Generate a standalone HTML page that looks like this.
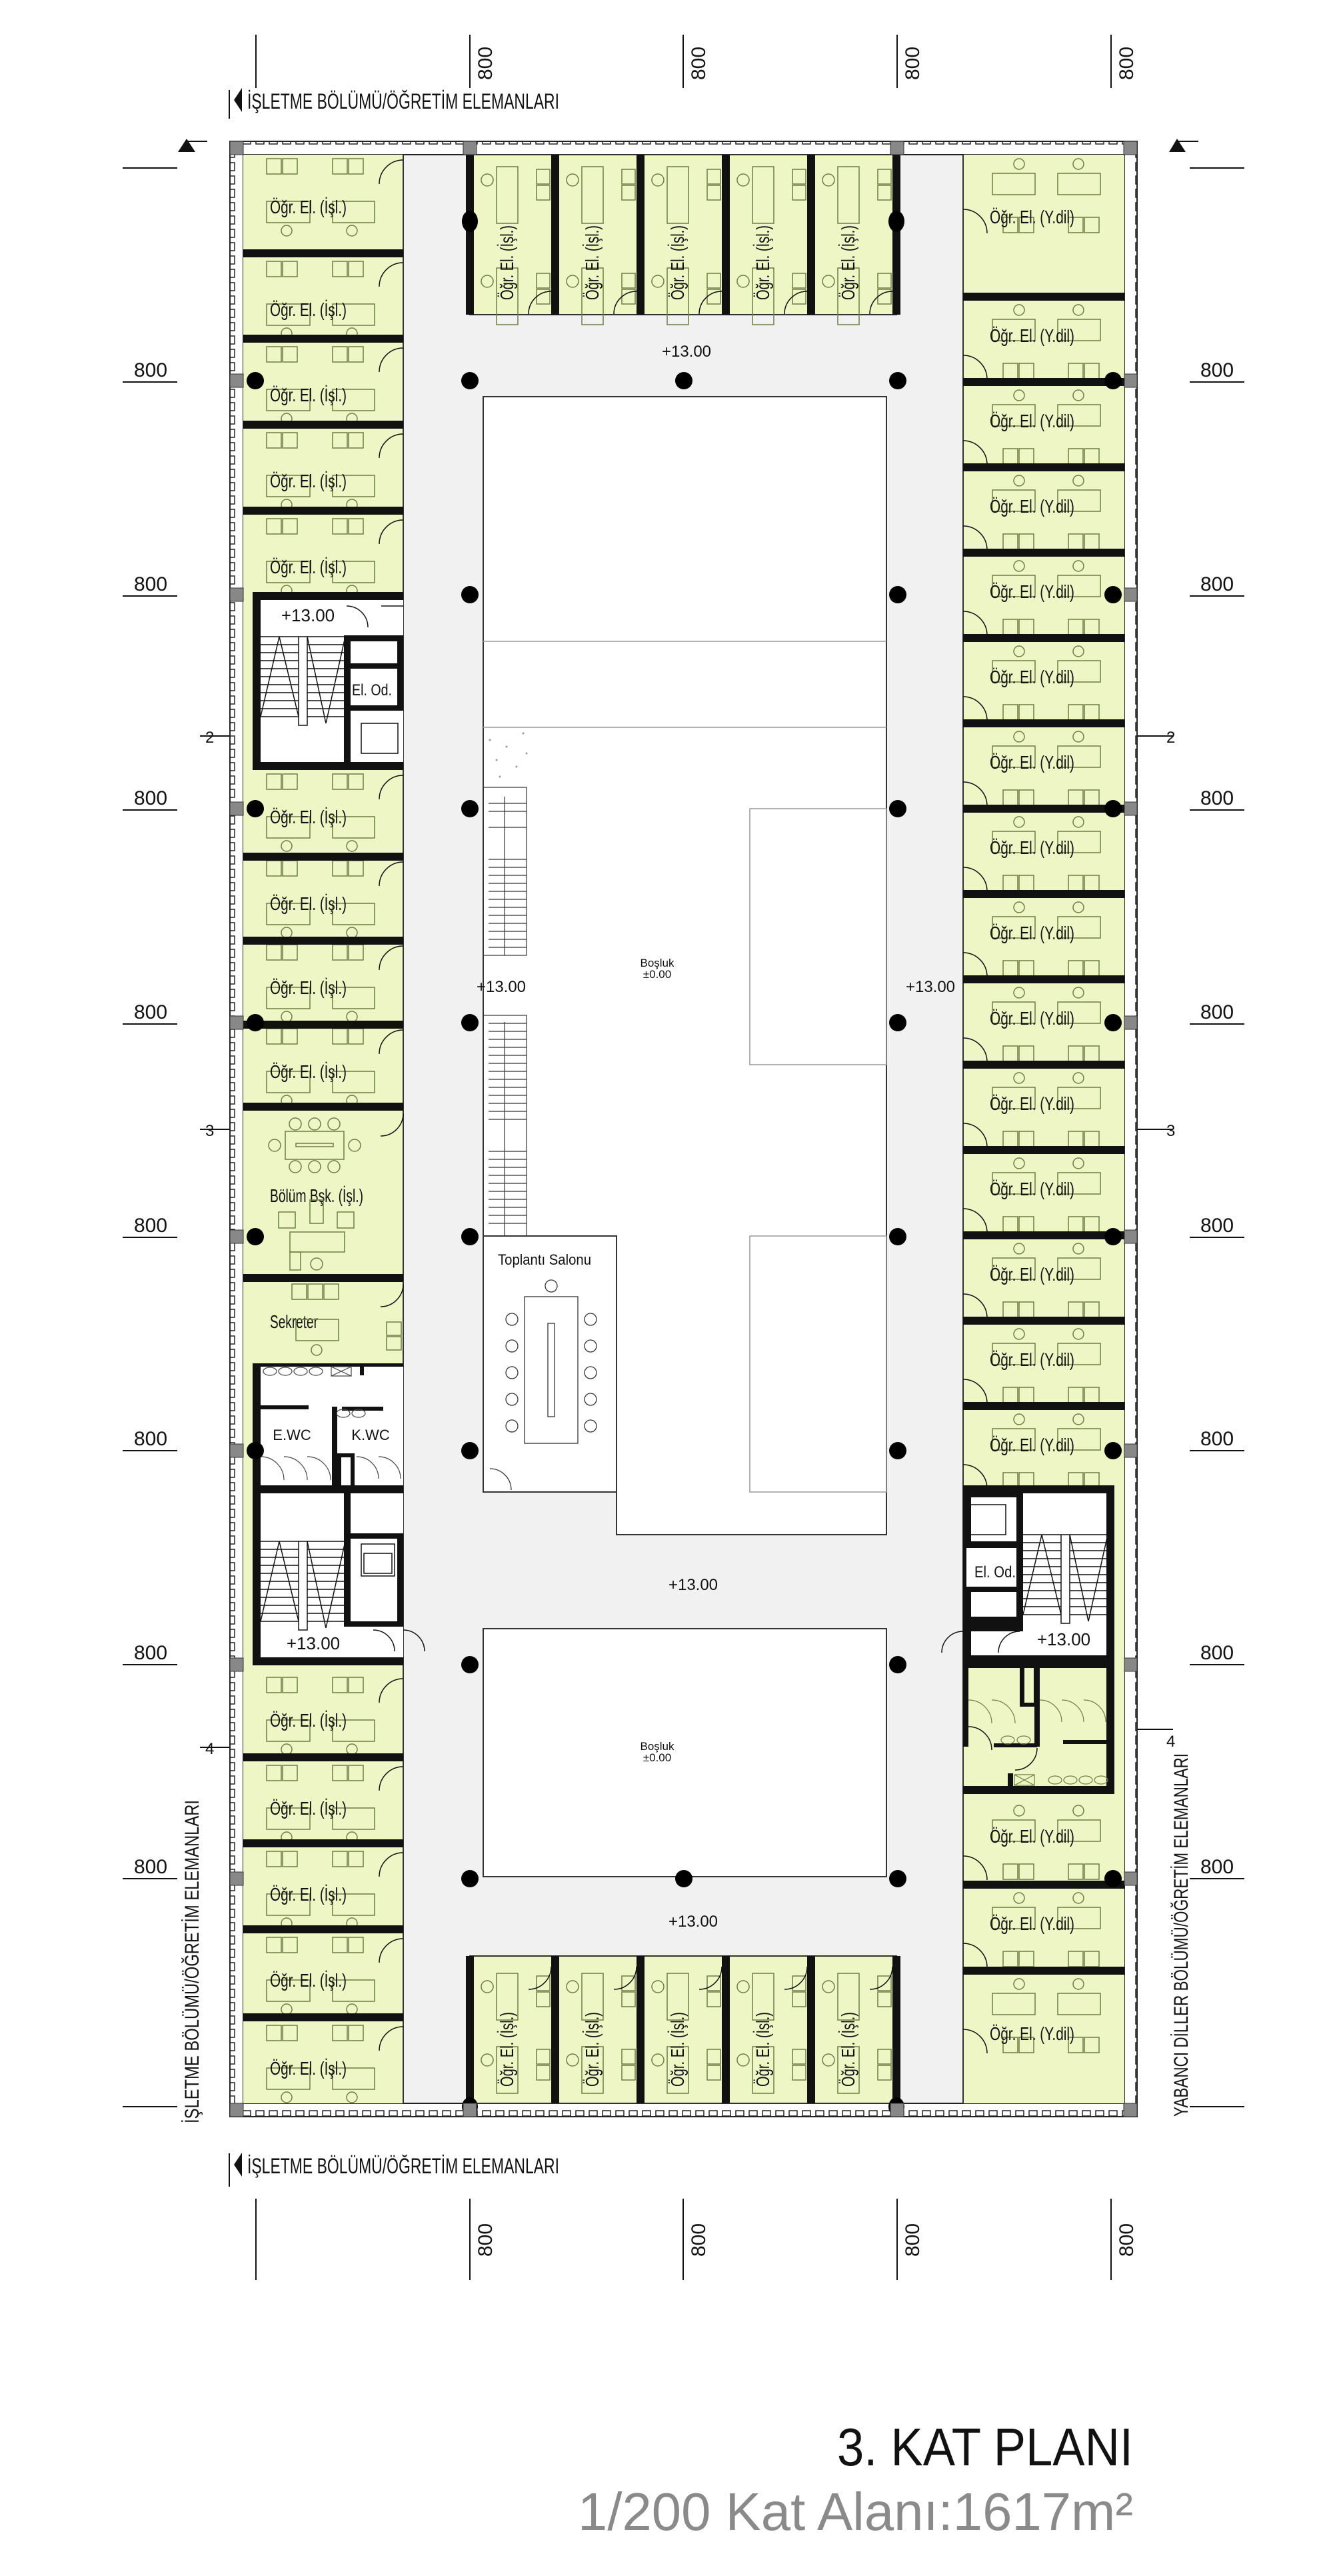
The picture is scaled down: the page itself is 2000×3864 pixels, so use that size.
<!DOCTYPE html>
<html><head><meta charset="utf-8"><style>
html,body{margin:0;padding:0;background:#fff}
svg{display:block}
text{font-family:"Liberation Sans",sans-serif;fill:#111}
</style></head><body>
<svg width="2000" height="3864" viewBox="0 0 2000 3864" xmlns="http://www.w3.org/2000/svg">
<defs>
<pattern id="wh" width="20" height="34" patternUnits="userSpaceOnUse"><rect x="4" y="4" width="12" height="8" fill="none" stroke="#222" stroke-width="1.5"/></pattern>
<pattern id="wv" width="34" height="20" patternUnits="userSpaceOnUse"><rect x="4" y="4" width="8" height="12" fill="none" stroke="#222" stroke-width="1.5"/></pattern>
<g id="L" fill="none" stroke="#6f7d45" stroke-width="1.5">
<rect x="35" y="6" width="22" height="23"/><rect x="59" y="6" width="22" height="23"/>
<rect x="134" y="6" width="22" height="23"/><rect x="158" y="6" width="22" height="23"/>
<rect x="35" y="70" width="65" height="32"/><rect x="134" y="70" width="63" height="32"/>
<circle cx="65" cy="114" r="8"/><circle cx="163" cy="114" r="8"/>
<path d="M240,8 A36,36 0 0 0 204,44" stroke="#111"/>
</g>
<g id="R" fill="none" stroke="#6f7d45" stroke-width="1.5">
<circle cx="84" cy="14" r="8"/><circle cx="173" cy="14" r="8"/>
<rect x="44" y="28" width="64" height="32"/><rect x="142" y="28" width="64" height="32"/>
<rect x="60" y="94" width="22" height="23"/><rect x="84" y="94" width="22" height="23"/>
<rect x="158" y="94" width="22" height="23"/><rect x="182" y="94" width="22" height="23"/>
<path d="M0,82 A36,36 0 0 1 36,118" stroke="#111"/>
</g>
<g id="T" fill="none" stroke="#6f7d45" stroke-width="1.5">
<rect x="34" y="18" width="32" height="85"/><circle cx="20" cy="38" r="9"/>
<rect x="94" y="22" width="20" height="22"/><rect x="94" y="46" width="20" height="22"/>
<rect x="34" y="170" width="32" height="85"/><circle cx="20" cy="190" r="9"/>
<rect x="94" y="178" width="20" height="22"/><rect x="94" y="202" width="20" height="22"/>
<path d="M116,205 A34,34 0 0 0 82,239" stroke="#111"/>
</g>
<g id="TB" fill="none" stroke="#6f7d45" stroke-width="1.5">
<rect x="34" y="20" width="32" height="70"/><circle cx="20" cy="40" r="9"/>
<rect x="94" y="24" width="20" height="22"/><rect x="94" y="48" width="20" height="22"/>
<rect x="34" y="130" width="32" height="70"/><circle cx="20" cy="150" r="9"/>
<rect x="94" y="134" width="20" height="22"/><rect x="94" y="158" width="20" height="22"/>
<path d="M116,10 A34,34 0 0 1 82,44" stroke="#111"/>
</g>
<g id="ST" fill="none" stroke="#111" stroke-width="1.5">
<path d="M0,0h57M0,12h57M0,24h57M0,36h57M0,48h57M0,60h57M0,72h57M0,84h57M0,96h57M0,108h57M0,120h57"/>
<path d="M70,0h57M70,12h57M70,24h57M70,36h57M70,48h57M70,60h57M70,72h57M70,84h57M70,96h57M70,108h57M70,120h57"/>
<path d="M0,120 L28,0 L57,120 M70,0 L98,130 L127,0"/>
<rect x="57" y="0" width="13" height="133" fill="#fff"/>
</g>
</defs>

<!-- top annotations -->
<g stroke="#111" stroke-width="2">
<line x1="384" y1="52" x2="384" y2="132"/><line x1="705" y1="52" x2="705" y2="132"/><line x1="1025" y1="52" x2="1025" y2="132"/><line x1="1346" y1="52" x2="1346" y2="132"/><line x1="1667" y1="52" x2="1667" y2="132"/>
<line x1="384" y1="3298" x2="384" y2="3420"/><line x1="705" y1="3298" x2="705" y2="3420"/><line x1="1025" y1="3298" x2="1025" y2="3420"/><line x1="1346" y1="3298" x2="1346" y2="3420"/><line x1="1667" y1="3298" x2="1667" y2="3420"/>
<line x1="344" y1="135" x2="344" y2="178"/><line x1="344" y1="3230" x2="344" y2="3280"/>
<line x1="279" y1="212" x2="311" y2="212"/><line x1="1766" y1="212" x2="1798" y2="212"/>
</g>
<g font-size="30">
<text transform="translate(738,95) rotate(-90)" text-anchor="middle">800</text>
<text transform="translate(1058,95) rotate(-90)" text-anchor="middle">800</text>
<text transform="translate(1379,95) rotate(-90)" text-anchor="middle">800</text>
<text transform="translate(1700,95) rotate(-90)" text-anchor="middle">800</text>
<text transform="translate(738,3360) rotate(-90)" text-anchor="middle">800</text>
<text transform="translate(1058,3360) rotate(-90)" text-anchor="middle">800</text>
<text transform="translate(1379,3360) rotate(-90)" text-anchor="middle">800</text>
<text transform="translate(1700,3360) rotate(-90)" text-anchor="middle">800</text>
</g>
<path d="M351,150 L363,132 L363,168 Z" fill="#111"/>
<text x="371" y="163" font-size="32" textLength="468" lengthAdjust="spacingAndGlyphs">İŞLETME BÖLÜMÜ/ÖĞRETİM ELEMANLARI</text>
<path d="M351,3247 L363,3229 L363,3265 Z" fill="#111"/>
<text x="371" y="3260" font-size="32" textLength="468" lengthAdjust="spacingAndGlyphs">İŞLETME BÖLÜMÜ/ÖĞRETİM ELEMANLARI</text>
<path d="M267,228 L280,208 L293,228 Z" fill="#111"/>
<path d="M1754,228 L1766,208 L1779,228 Z" fill="#111"/>
<text transform="translate(298,3185) rotate(-90)" font-size="30" textLength="485" lengthAdjust="spacingAndGlyphs">İŞLETME BÖLÜMÜ/ÖĞRETİM ELEMANLARI</text>
<text transform="translate(1782,3175) rotate(-90)" font-size="30" textLength="545" lengthAdjust="spacingAndGlyphs">YABANCI DİLLER BÖLÜMÜ/ÖĞRETİM ELEMANLARI</text>

<!-- side dims -->
<g stroke="#111" stroke-width="2">
<line x1="184" y1="252" x2="266" y2="252"/><line x1="1785" y1="252" x2="1867" y2="252"/>
<line x1="184" y1="573" x2="266" y2="573"/><line x1="1785" y1="573" x2="1867" y2="573"/>
<line x1="184" y1="894" x2="266" y2="894"/><line x1="1785" y1="894" x2="1867" y2="894"/>
<line x1="184" y1="1215" x2="266" y2="1215"/><line x1="1785" y1="1215" x2="1867" y2="1215"/>
<line x1="184" y1="1536" x2="266" y2="1536"/><line x1="1785" y1="1536" x2="1867" y2="1536"/>
<line x1="184" y1="1856" x2="266" y2="1856"/><line x1="1785" y1="1856" x2="1867" y2="1856"/>
<line x1="184" y1="2176" x2="266" y2="2176"/><line x1="1785" y1="2176" x2="1867" y2="2176"/>
<line x1="184" y1="2497" x2="266" y2="2497"/><line x1="1785" y1="2497" x2="1867" y2="2497"/>
<line x1="184" y1="2818" x2="266" y2="2818"/><line x1="1785" y1="2818" x2="1867" y2="2818"/>
<line x1="184" y1="3160" x2="266" y2="3160"/><line x1="1785" y1="3160" x2="1867" y2="3160"/>
<line x1="300" y1="1104" x2="380" y2="1104"/><line x1="1680" y1="1104" x2="1760" y2="1104"/>
<line x1="300" y1="1694" x2="380" y2="1694"/><line x1="1680" y1="1694" x2="1760" y2="1694"/>
<line x1="300" y1="2621" x2="380" y2="2621"/><line x1="1660" y1="2594" x2="1760" y2="2594"/>
</g>
<g font-size="30" text-anchor="middle">
<text x="226" y="565">800</text><text x="1826" y="565">800</text>
<text x="226" y="886">800</text><text x="1826" y="886">800</text>
<text x="226" y="1207">800</text><text x="1826" y="1207">800</text>
<text x="226" y="1528">800</text><text x="1826" y="1528">800</text>
<text x="226" y="1848">800</text><text x="1826" y="1848">800</text>
<text x="226" y="2168">800</text><text x="1826" y="2168">800</text>
<text x="226" y="2489">800</text><text x="1826" y="2489">800</text>
<text x="226" y="2810">800</text><text x="1826" y="2810">800</text>
</g>
<g font-size="24"><text x="308" y="1114">2</text><text x="1750" y="1114">2</text><text x="308" y="1704">3</text><text x="1750" y="1704">3</text><text x="308" y="2631">4</text><text x="1750" y="2620">4</text></g>

<!-- frame -->
<rect x="345" y="212" width="1361" height="2963" fill="#fff" stroke="#222" stroke-width="2"/>
<rect x="365" y="212" width="1322" height="20" fill="url(#wh)"/>
<rect x="365" y="3155" width="1322" height="20" fill="url(#wh)"/>
<rect x="345" y="232" width="20" height="2923" fill="url(#wv)"/>
<rect x="1687" y="232" width="19" height="2923" fill="url(#wv)"/>
<rect x="365" y="232" width="1322" height="2923" fill="#f1f1f1" stroke="#222" stroke-width="2"/>

<!-- left wing green -->
<rect x="365" y="232" width="240" height="2923" fill="#eef6c6"/>
<line x1="605" y1="232" x2="605" y2="3155" stroke="#333" stroke-width="2"/>
<!-- right wing green -->
<rect x="1445" y="232" width="242" height="2923" fill="#eef6c6"/>
<line x1="1445" y1="232" x2="1445" y2="3155" stroke="#333" stroke-width="2"/>
<!-- top/bottom rooms -->
<rect x="705" y="232" width="640" height="240" fill="#eef6c6" stroke="#333" stroke-width="2"/>
<rect x="705" y="2934" width="640" height="221" fill="#eef6c6" stroke="#333" stroke-width="2"/>

<!-- left furniture -->
<use href="#L" x="365" y="232"/><use href="#L" x="365" y="386"/><use href="#L" x="365" y="514"/><use href="#L" x="365" y="643"/><use href="#L" x="365" y="772"/>
<use href="#L" x="365" y="1155"/><use href="#L" x="365" y="1285"/><use href="#L" x="365" y="1411"/><use href="#L" x="365" y="1537"/>
<use href="#L" x="365" y="2510"/><use href="#L" x="365" y="2642"/><use href="#L" x="365" y="2771"/><use href="#L" x="365" y="2900"/><use href="#L" x="365" y="3032"/>
<g fill="#111">
<rect x="365" y="374" width="240" height="12"/><rect x="365" y="502" width="240" height="12"/><rect x="365" y="631" width="240" height="12"/><rect x="365" y="760" width="240" height="12"/>
<rect x="365" y="1279" width="240" height="12"/><rect x="365" y="1405" width="240" height="12"/><rect x="365" y="1531" width="240" height="12"/>
<rect x="365" y="1654" width="240" height="12"/><rect x="365" y="1911" width="240" height="12"/>
<rect x="365" y="2630" width="240" height="12"/><rect x="365" y="2759" width="240" height="12"/><rect x="365" y="2888" width="240" height="12"/><rect x="365" y="3020" width="240" height="12"/>
</g>
<g font-size="28">
<text x="405" y="320" textLength="115" lengthAdjust="spacingAndGlyphs">Öğr. El. (İşl.)</text>
<text x="405" y="474" textLength="115" lengthAdjust="spacingAndGlyphs">Öğr. El. (İşl.)</text>
<text x="405" y="602" textLength="115" lengthAdjust="spacingAndGlyphs">Öğr. El. (İşl.)</text>
<text x="405" y="731" textLength="115" lengthAdjust="spacingAndGlyphs">Öğr. El. (İşl.)</text>
<text x="405" y="860" textLength="115" lengthAdjust="spacingAndGlyphs">Öğr. El. (İşl.)</text>
<text x="405" y="1235" textLength="115" lengthAdjust="spacingAndGlyphs">Öğr. El. (İşl.)</text>
<text x="405" y="1365" textLength="115" lengthAdjust="spacingAndGlyphs">Öğr. El. (İşl.)</text>
<text x="405" y="1491" textLength="115" lengthAdjust="spacingAndGlyphs">Öğr. El. (İşl.)</text>
<text x="405" y="1617" textLength="115" lengthAdjust="spacingAndGlyphs">Öğr. El. (İşl.)</text>
<text x="405" y="2590" textLength="115" lengthAdjust="spacingAndGlyphs">Öğr. El. (İşl.)</text>
<text x="405" y="2722" textLength="115" lengthAdjust="spacingAndGlyphs">Öğr. El. (İşl.)</text>
<text x="405" y="2851" textLength="115" lengthAdjust="spacingAndGlyphs">Öğr. El. (İşl.)</text>
<text x="405" y="2980" textLength="115" lengthAdjust="spacingAndGlyphs">Öğr. El. (İşl.)</text>
<text x="405" y="3112" textLength="115" lengthAdjust="spacingAndGlyphs">Öğr. El. (İşl.)</text>
<text x="405" y="1803" textLength="140" lengthAdjust="spacingAndGlyphs">Bölüm Bşk. (İşl.)</text>
<text x="405" y="1992" textLength="72" lengthAdjust="spacingAndGlyphs">Sekreter</text>
</g>
<!-- Bsk / sekreter furniture -->
<g fill="none" stroke="#6f7d45" stroke-width="1.5">
<rect x="428" y="1697" width="88" height="42"/><rect x="444" y="1715" width="56" height="5"/>
<circle cx="443" cy="1686" r="9"/><circle cx="472" cy="1686" r="9"/><circle cx="501" cy="1686" r="9"/>
<circle cx="443" cy="1750" r="9"/><circle cx="472" cy="1750" r="9"/><circle cx="501" cy="1750" r="9"/>
<circle cx="412" cy="1718" r="9"/><circle cx="532" cy="1718" r="9"/>
<rect x="418" y="1818" width="25" height="24"/><rect x="506" y="1818" width="25" height="24"/><rect x="465" y="1800" width="20" height="35"/>
<rect x="435" y="1848" width="82" height="30"/><rect x="435" y="1878" width="16" height="27"/><circle cx="475" cy="1896" r="9"/>
<rect x="438" y="1926" width="22" height="23"/><rect x="462" y="1926" width="22" height="23"/><rect x="486" y="1926" width="22" height="23"/>
<rect x="444" y="1979" width="64" height="32"/><circle cx="475" cy="2025" r="8"/>
<rect x="580" y="1983" width="22" height="20"/><rect x="580" y="2005" width="22" height="20"/>
<path d="M605,1670 A34,34 0 0 1 571,1704 M605,1926 A34,34 0 0 1 571,1960" stroke="#111"/>
</g>

<!-- left stair block 1 -->
<rect x="379" y="888" width="226" height="267" fill="#111"/>
<rect x="391" y="900" width="214" height="243" fill="#fff"/>
<use href="#ST" x="391" y="955"/>
<rect x="516" y="953" width="89" height="190" fill="#111"/>
<rect x="526" y="962" width="70" height="33" fill="#fff"/>
<rect x="526" y="1003" width="70" height="55" fill="#fff"/>
<rect x="526" y="1066" width="79" height="77" fill="#fff"/>
<rect x="542" y="1085" width="55" height="45" fill="none" stroke="#111" stroke-width="1.5"/>
<path d="M520,909 A32,32 0 0 1 552,941 M572,909 h33" fill="none" stroke="#111" stroke-width="1.5"/>
<text x="462" y="932" font-size="26" text-anchor="middle">+13.00</text>
<text x="528" y="1043" font-size="24" textLength="60" lengthAdjust="spacingAndGlyphs">El. Od.</text>

<!-- left WC block -->
<rect x="379" y="2045" width="226" height="195" fill="#111"/>
<rect x="391" y="2050" width="214" height="178" fill="#fff"/>
<rect x="391" y="2108" width="72" height="6" fill="#111"/>
<rect x="611" y="2045" width="0" height="0"/>
<rect x="513" y="2110" width="62" height="6" fill="#111"/>
<rect x="498" y="2110" width="8" height="120" fill="#111"/>
<rect x="505" y="2180" width="27" height="50" fill="#111"/><rect x="512" y="2186" width="14" height="44" fill="#fff"/>
<rect x="540" y="2045" width="6" height="18" fill="#111"/>
<g fill="none" stroke="#444" stroke-width="1.2">
<ellipse cx="405" cy="2057" rx="10" ry="6"/><ellipse cx="428" cy="2057" rx="10" ry="6"/><ellipse cx="451" cy="2057" rx="10" ry="6"/><ellipse cx="474" cy="2057" rx="10" ry="6"/>
<path d="M497,2050 h30 v14 h-30 z M497,2050 l30,14 M527,2050 l-30,14"/>
<ellipse cx="515" cy="2120" rx="10" ry="6"/><ellipse cx="538" cy="2120" rx="10" ry="6"/>
<path d="M391,2185 A35,35 0 0 1 426,2220 M426,2185 A35,35 0 0 1 461,2220 M461,2185 A35,35 0 0 1 496,2220 M535,2185 A33,33 0 0 1 568,2218 M568,2185 A33,33 0 0 1 601,2218"/>
</g>
<text x="438" y="2160" font-size="22" text-anchor="middle">E.WC</text>
<text x="556" y="2160" font-size="22" text-anchor="middle">K.WC</text>
<!-- left stair block 2 -->
<rect x="379" y="2228" width="226" height="270" fill="#111"/>
<rect x="391" y="2240" width="214" height="246" fill="#fff"/>
<use href="#ST" x="391" y="2312"/>
<rect x="516" y="2240" width="89" height="200" fill="#111"/>
<rect x="526" y="2240" width="79" height="60" fill="#fff"/>
<rect x="526" y="2308" width="70" height="124" fill="#fff"/>
<rect x="542" y="2316" width="50" height="48" fill="none" stroke="#111" stroke-width="1.5"/>
<rect x="546" y="2330" width="42" height="30" fill="none" stroke="#111" stroke-width="1.5"/>
<text x="470" y="2474" font-size="26" text-anchor="middle">+13.00</text>
<path d="M560,2445 A32,32 0 0 1 592,2477 M605,2445 A32,32 0 0 1 637,2477" fill="none" stroke="#111" stroke-width="1.5"/>

<!-- right wing rooms -->
<use href="#R" x="1445" y="232"/>
<use href="#R" x="1445" y="451"/><use href="#R" x="1445" y="579"/><use href="#R" x="1445" y="707"/><use href="#R" x="1445" y="835"/><use href="#R" x="1445" y="963"/><use href="#R" x="1445" y="1091"/><use href="#R" x="1445" y="1219"/><use href="#R" x="1445" y="1347"/><use href="#R" x="1445" y="1475"/><use href="#R" x="1445" y="1603"/><use href="#R" x="1445" y="1731"/><use href="#R" x="1445" y="1859"/><use href="#R" x="1445" y="1987"/><use href="#R" x="1445" y="2115"/>
<use href="#R" x="1445" y="2702"/><use href="#R" x="1445" y="2833"/><use href="#R" x="1445" y="2962"/>
<g fill="#111">
<rect x="1445" y="439" width="242" height="12"/><rect x="1445" y="567" width="242" height="12"/><rect x="1445" y="695" width="242" height="12"/><rect x="1445" y="823" width="242" height="12"/><rect x="1445" y="951" width="242" height="12"/><rect x="1445" y="1079" width="242" height="12"/><rect x="1445" y="1207" width="242" height="12"/><rect x="1445" y="1335" width="242" height="12"/><rect x="1445" y="1463" width="242" height="12"/><rect x="1445" y="1591" width="242" height="12"/><rect x="1445" y="1719" width="242" height="12"/><rect x="1445" y="1847" width="242" height="12"/><rect x="1445" y="1975" width="242" height="12"/><rect x="1445" y="2103" width="242" height="12"/>
<rect x="1445" y="2821" width="242" height="12"/><rect x="1445" y="2950" width="242" height="12"/>
</g>
<g font-size="28">
<text x="1485" y="335" textLength="127" lengthAdjust="spacingAndGlyphs">Öğr. El. (Y.dil)</text>
<text x="1485" y="513" textLength="127" lengthAdjust="spacingAndGlyphs">Öğr. El. (Y.dil)</text>
<text x="1485" y="641" textLength="127" lengthAdjust="spacingAndGlyphs">Öğr. El. (Y.dil)</text>
<text x="1485" y="769" textLength="127" lengthAdjust="spacingAndGlyphs">Öğr. El. (Y.dil)</text>
<text x="1485" y="897" textLength="127" lengthAdjust="spacingAndGlyphs">Öğr. El. (Y.dil)</text>
<text x="1485" y="1025" textLength="127" lengthAdjust="spacingAndGlyphs">Öğr. El. (Y.dil)</text>
<text x="1485" y="1153" textLength="127" lengthAdjust="spacingAndGlyphs">Öğr. El. (Y.dil)</text>
<text x="1485" y="1281" textLength="127" lengthAdjust="spacingAndGlyphs">Öğr. El. (Y.dil)</text>
<text x="1485" y="1409" textLength="127" lengthAdjust="spacingAndGlyphs">Öğr. El. (Y.dil)</text>
<text x="1485" y="1537" textLength="127" lengthAdjust="spacingAndGlyphs">Öğr. El. (Y.dil)</text>
<text x="1485" y="1665" textLength="127" lengthAdjust="spacingAndGlyphs">Öğr. El. (Y.dil)</text>
<text x="1485" y="1793" textLength="127" lengthAdjust="spacingAndGlyphs">Öğr. El. (Y.dil)</text>
<text x="1485" y="1921" textLength="127" lengthAdjust="spacingAndGlyphs">Öğr. El. (Y.dil)</text>
<text x="1485" y="2049" textLength="127" lengthAdjust="spacingAndGlyphs">Öğr. El. (Y.dil)</text>
<text x="1485" y="2177" textLength="127" lengthAdjust="spacingAndGlyphs">Öğr. El. (Y.dil)</text>
<text x="1485" y="2764" textLength="127" lengthAdjust="spacingAndGlyphs">Öğr. El. (Y.dil)</text>
<text x="1485" y="2895" textLength="127" lengthAdjust="spacingAndGlyphs">Öğr. El. (Y.dil)</text>
<text x="1485" y="3060" textLength="127" lengthAdjust="spacingAndGlyphs">Öğr. El. (Y.dil)</text>
</g>
<!-- right stair block -->
<rect x="1445" y="2228" width="227" height="267" fill="#111"/>
<rect x="1457" y="2240" width="203" height="243" fill="#fff"/>
<rect x="1457" y="2240" width="78" height="207" fill="#111"/>
<rect x="1457" y="2246" width="68" height="66" fill="#fff"/>
<rect x="1450" y="2322" width="75" height="58" fill="#fff"/>
<rect x="1457" y="2388" width="68" height="37" fill="#fff"/>
<rect x="1453" y="2257" width="56" height="45" fill="none" stroke="#111" stroke-width="1.5"/>
<use href="#ST" x="1535" y="2302"/>
<text x="1462" y="2366" font-size="24" textLength="62" lengthAdjust="spacingAndGlyphs">El. Od.</text>
<text x="1596" y="2468" font-size="26" text-anchor="middle">+13.00</text>
<path d="M1445,2447 A32,32 0 0 0 1413,2479 M1530,2447 A32,32 0 0 0 1498,2479" fill="none" stroke="#111" stroke-width="1.5"/>
<!-- right WC -->
<g fill="#111">
<rect x="1445" y="2490" width="227" height="12"/><rect x="1660" y="2490" width="12" height="200"/><rect x="1445" y="2679" width="227" height="12"/>
<rect x="1445" y="2495" width="8" height="125"/><rect x="1530" y="2495" width="28" height="65"/><rect x="1552" y="2495" width="8" height="125"/>
<rect x="1491" y="2615" width="65" height="6"/><rect x="1595" y="2610" width="70" height="6"/><rect x="1512" y="2660" width="8" height="25"/>
</g>
<rect x="1537" y="2502" width="14" height="52" fill="#eef6c6"/>
<g fill="none" stroke="#6f7d45" stroke-width="1.2">
<path d="M1453,2550 A35,35 0 0 1 1488,2585 M1488,2550 A35,35 0 0 1 1523,2585 M1560,2550 A33,33 0 0 1 1593,2583 M1593,2550 A33,33 0 0 1 1626,2583 M1626,2550 A33,33 0 0 1 1659,2583"/>
<ellipse cx="1512" cy="2610" rx="10" ry="6"/><ellipse cx="1536" cy="2610" rx="10" ry="6"/>
<ellipse cx="1583" cy="2670" rx="10" ry="6"/><ellipse cx="1606" cy="2670" rx="10" ry="6"/><ellipse cx="1629" cy="2670" rx="10" ry="6"/><ellipse cx="1652" cy="2670" rx="10" ry="6"/>
<path d="M1522,2662 h30 v16 h-30 z M1522,2662 l30,16 M1552,2662 l-30,16"/>
</g>
<path d="M1453,2590 A35,35 0 0 1 1488,2625 M1556,2622 A33,33 0 0 1 1523,2655" fill="none" stroke="#111" stroke-width="1.5"/>

<!-- top rooms -->
<use href="#T" x="711" y="232"/><use href="#T" x="839" y="232"/><use href="#T" x="967" y="232"/><use href="#T" x="1095" y="232"/><use href="#T" x="1223" y="232"/>
<use href="#TB" x="711" y="2940"/><use href="#TB" x="839" y="2940"/><use href="#TB" x="967" y="2940"/><use href="#TB" x="1095" y="2940"/><use href="#TB" x="1223" y="2940"/>
<g fill="#111">
<rect x="699" y="232" width="12" height="240"/><rect x="827" y="232" width="12" height="240"/><rect x="955" y="232" width="12" height="240"/><rect x="1083" y="232" width="12" height="240"/><rect x="1211" y="232" width="12" height="240"/><rect x="1339" y="232" width="12" height="240"/>
<rect x="699" y="2934" width="12" height="221"/><rect x="827" y="2934" width="12" height="221"/><rect x="955" y="2934" width="12" height="221"/><rect x="1083" y="2934" width="12" height="221"/><rect x="1211" y="2934" width="12" height="221"/><rect x="1339" y="2934" width="12" height="221"/>
</g>
<g font-size="28">
<text transform="translate(770,450) rotate(-90)" textLength="112" lengthAdjust="spacingAndGlyphs">Öğr. El. (İşl.)</text>
<text transform="translate(898,450) rotate(-90)" textLength="112" lengthAdjust="spacingAndGlyphs">Öğr. El. (İşl.)</text>
<text transform="translate(1026,450) rotate(-90)" textLength="112" lengthAdjust="spacingAndGlyphs">Öğr. El. (İşl.)</text>
<text transform="translate(1154,450) rotate(-90)" textLength="112" lengthAdjust="spacingAndGlyphs">Öğr. El. (İşl.)</text>
<text transform="translate(1282,450) rotate(-90)" textLength="112" lengthAdjust="spacingAndGlyphs">Öğr. El. (İşl.)</text>
<text transform="translate(770,3130) rotate(-90)" textLength="112" lengthAdjust="spacingAndGlyphs">Öğr. El. (İşl.)</text>
<text transform="translate(898,3130) rotate(-90)" textLength="112" lengthAdjust="spacingAndGlyphs">Öğr. El. (İşl.)</text>
<text transform="translate(1026,3130) rotate(-90)" textLength="112" lengthAdjust="spacingAndGlyphs">Öğr. El. (İşl.)</text>
<text transform="translate(1154,3130) rotate(-90)" textLength="112" lengthAdjust="spacingAndGlyphs">Öğr. El. (İşl.)</text>
<text transform="translate(1282,3130) rotate(-90)" textLength="112" lengthAdjust="spacingAndGlyphs">Öğr. El. (İşl.)</text>
</g>

<!-- central void -->
<path d="M725,595 H1330 V2302 H925 V2238 H725 Z" fill="#fff" stroke="#333" stroke-width="2"/>
<line x1="725" y1="962" x2="1330" y2="962" stroke="#999" stroke-width="1.5"/>
<line x1="725" y1="1091" x2="1330" y2="1091" stroke="#999" stroke-width="1.5"/>
<rect x="1125" y="1213" width="205" height="384" fill="none" stroke="#999" stroke-width="1.5"/>
<rect x="1125" y="1854" width="205" height="384" fill="none" stroke="#999" stroke-width="1.5"/>
<g stroke="#333" stroke-width="1.2" fill="none">
<rect x="725" y="1181" width="65" height="252"/><line x1="757" y1="1195" x2="757" y2="1433"/>
<path d="M733,1205h57M733,1217h57M733,1241h57M733,1289h57M733,1301h57M733,1313h57M733,1325h57M733,1337h57M733,1349h57M733,1361h57M733,1373h57M733,1385h57M733,1397h57M733,1409h57M733,1421h57"/>
<rect x="725" y="1523" width="65" height="331"/><line x1="757" y1="1533" x2="757" y2="1854"/>
<path d="M733,1535h57M733,1547h57M733,1559h57M733,1571h57M733,1583h57M733,1595h57M733,1607h57M733,1619h57M733,1631h57M733,1643h57M733,1655h57M733,1667h57M733,1679h57M733,1727h57M733,1739h57M733,1751h57M733,1763h57M733,1775h57M733,1787h57M733,1799h57M733,1811h57M733,1823h57M733,1835h57"/>
</g>
<g fill="#999"><circle cx="735" cy="1110" r="1.5"/><circle cx="760" cy="1120" r="1.5"/><circle cx="785" cy="1100" r="1.5"/><circle cx="745" cy="1140" r="1.5"/><circle cx="775" cy="1150" r="1.5"/><circle cx="790" cy="1130" r="1.5"/><circle cx="750" cy="1165" r="1.5"/></g>
<text x="986" y="1450" font-size="17" text-anchor="middle">Boşluk</text>
<text x="986" y="1467" font-size="17" text-anchor="middle">±0.00</text>
<!-- toplantı -->
<rect x="725" y="1854" width="200" height="384" fill="#fff" stroke="#333" stroke-width="2"/>
<text x="747" y="1897" font-size="22" textLength="140" lengthAdjust="spacingAndGlyphs">Toplantı Salonu</text>
<g fill="none" stroke="#333" stroke-width="1.3">
<rect x="787" y="1945" width="80" height="220"/><rect x="822" y="1985" width="10" height="140"/>
<circle cx="827" cy="1929" r="9"/>
<circle cx="768" cy="1979" r="9"/><circle cx="768" cy="2019" r="9"/><circle cx="768" cy="2059" r="9"/><circle cx="768" cy="2099" r="9"/><circle cx="768" cy="2139" r="9"/>
<circle cx="886" cy="1979" r="9"/><circle cx="886" cy="2019" r="9"/><circle cx="886" cy="2059" r="9"/><circle cx="886" cy="2099" r="9"/><circle cx="886" cy="2139" r="9"/>
<path d="M735,2203 A32,32 0 0 1 767,2235"/>
</g>
<!-- lower void -->
<rect x="725" y="2443" width="605" height="372" fill="#fff" stroke="#333" stroke-width="2"/>
<text x="986" y="2625" font-size="17" text-anchor="middle">Boşluk</text>
<text x="986" y="2642" font-size="17" text-anchor="middle">±0.00</text>

<!-- levels -->
<g font-size="24" text-anchor="middle">
<text x="1030" y="535">+13.00</text><text x="752" y="1488">+13.00</text><text x="1396" y="1488">+13.00</text>
<text x="1040" y="2385">+13.00</text><text x="1040" y="2890">+13.00</text>
</g>

<!-- columns -->
<g fill="#000">
<ellipse cx="705" cy="332" rx="12" ry="16"/><ellipse cx="1345" cy="332" rx="12" ry="16"/>
<circle cx="705" cy="571" r="13"/><circle cx="1026" cy="571" r="13"/><circle cx="1347" cy="571" r="13"/>
<circle cx="705" cy="892" r="13"/><circle cx="1347" cy="892" r="13"/>
<circle cx="705" cy="1213" r="13"/><circle cx="1347" cy="1213" r="13"/>
<circle cx="705" cy="1534" r="13"/><circle cx="1347" cy="1534" r="13"/>
<circle cx="705" cy="1855" r="13"/><circle cx="1347" cy="1855" r="13"/>
<circle cx="705" cy="2176" r="13"/><circle cx="1347" cy="2176" r="13"/>
<circle cx="705" cy="2497" r="13"/><circle cx="1347" cy="2497" r="13"/>
<circle cx="705" cy="2818" r="13"/><circle cx="1026" cy="2818" r="13"/><circle cx="1347" cy="2818" r="13"/>
<ellipse cx="705" cy="3160" rx="12" ry="14"/><ellipse cx="1345" cy="3160" rx="12" ry="14"/>
<circle cx="383" cy="571" r="13"/><circle cx="383" cy="1213" r="13"/><circle cx="383" cy="1534" r="13"/><circle cx="383" cy="1855" r="13"/><circle cx="383" cy="2176" r="13"/>
<circle cx="1670" cy="571" r="13"/><circle cx="1670" cy="892" r="13"/><circle cx="1670" cy="1213" r="13"/><circle cx="1670" cy="1534" r="13"/><circle cx="1670" cy="1855" r="13"/><circle cx="1670" cy="2176" r="13"/><circle cx="1670" cy="2818" r="13"/>
</g>
<!-- gray frame squares -->
<g fill="#888" stroke="#333" stroke-width="1">
<rect x="345" y="212" width="20" height="20"/><rect x="695" y="212" width="20" height="20"/><rect x="1336" y="212" width="20" height="20"/><rect x="1686" y="212" width="20" height="20"/>
<rect x="345" y="3155" width="20" height="20"/><rect x="695" y="3155" width="20" height="20"/><rect x="1336" y="3155" width="20" height="20"/><rect x="1686" y="3155" width="20" height="20"/>
<rect x="345" y="561" width="20" height="20"/><rect x="345" y="882" width="20" height="20"/><rect x="345" y="1203" width="20" height="20"/><rect x="345" y="1524" width="20" height="20"/><rect x="345" y="1845" width="20" height="20"/><rect x="345" y="2166" width="20" height="20"/><rect x="345" y="2487" width="20" height="20"/><rect x="345" y="2808" width="20" height="20"/>
<rect x="1687" y="561" width="19" height="20"/><rect x="1687" y="882" width="19" height="20"/><rect x="1687" y="1203" width="19" height="20"/><rect x="1687" y="1524" width="19" height="20"/><rect x="1687" y="1845" width="19" height="20"/><rect x="1687" y="2166" width="19" height="20"/><rect x="1687" y="2487" width="19" height="20"/><rect x="1687" y="2808" width="19" height="20"/>
</g>

<!-- title -->
<text x="1700" y="3698" font-size="80" text-anchor="end" textLength="444" lengthAdjust="spacingAndGlyphs">3. KAT PLANI</text>
<text x="1700" y="3795" font-size="80" text-anchor="end" textLength="833" lengthAdjust="spacingAndGlyphs" style="fill:#8a8a8a">1/200 Kat Alanı:1617m²</text>
</svg>
</body></html>
